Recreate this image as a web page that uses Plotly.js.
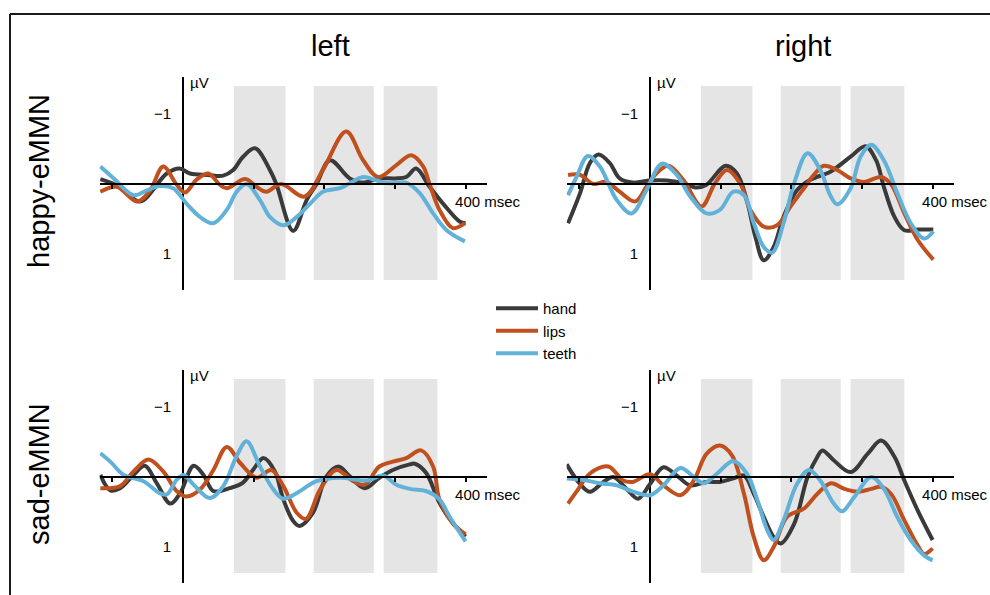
<!DOCTYPE html>
<html>
<head>
<meta charset="utf-8">
<script src="https://cdn.plot.ly/plotly-3.0.1.min.js"></script>
<style>html,body{margin:0;padding:0;background:#fff;}#chart{width:990px;height:595px;}</style>
</head>
<body>
<div id="chart"></div>
<script>
// ---------- DATA (time in msec, amplitude in µV; negative plotted upward) ----------
const conditions = ['hand', 'lips', 'teeth'];
const columnTitles = ['left', 'right'];
const rowTitles = ['happy-eMMN', 'sad-eMMN'];
const analysisWindows = [[72, 145], [185, 270], [284, 360]];
const windowTop = -1.4, windowBottom = 1.37;
const yTickVals = [-1, 1];
const yTickText = ['\u22121', '1'];
const xTickVals = [-100, 100, 200, 300, 400];
const xTickText = ['', '', '', '', '400 msec'];

// happy-eMMN, left
const happyLeftHandX = [-117,-89,-61,-23,-5,10,35,57,71,85,102,123,132,156,175,189,208,236,255,278,300,316,330,349,368,392,400];
const happyLeftHandY = [-0.07,0.04,0.25,-0.15,-0.22,-0.15,-0.13,-0.12,-0.2,-0.39,-0.51,-0.2,0.0,0.67,0.23,0.0,-0.34,-0.08,-0.02,-0.08,-0.08,-0.1,-0.22,0.04,0.28,0.54,0.56];
const happyLeftLipsX = [-117,-94,-65,-47,-28,-9,3,19,36,52,62,88,104,118,139,172,198,231,255,276,302,323,340,349,363,382,399];
const happyLeftLipsY = [0.11,0.04,0.25,0.1,-0.25,0.01,0.12,-0.06,-0.15,0.01,0.06,-0.07,0.04,0.11,0.0,0.18,-0.2,-0.75,-0.34,-0.1,-0.27,-0.41,-0.25,0.0,0.37,0.63,0.56];
const happyLeftTeethX = [-117,-98,-70,-51,-33,-14,5,24,43,62,76,90,109,123,142,161,180,198,222,236,255,274,293,316,335,354,373,399];
const happyLeftTeethY = [-0.25,-0.08,0.16,0.09,0.03,0.06,0.28,0.47,0.56,0.37,0.11,0.0,0.23,0.47,0.59,0.47,0.28,0.11,0.06,-0.01,-0.1,-0.05,-0.01,-0.02,0.13,0.42,0.66,0.82];

// happy-eMMN, right
const happyRightHandX = [-116,-99,-85,-73,-57,-43,-24,0,24,47,66,80,107,123,137,149,161,175,189,208,227,256,284,305,320,331,346,360,379,401];
const happyRightHandY = [0.56,0.13,-0.3,-0.42,-0.3,-0.08,-0.02,-0.05,-0.05,-0.01,0.05,0.01,-0.26,-0.15,0.23,0.75,1.09,0.9,0.47,0.09,-0.06,-0.18,-0.39,-0.54,-0.34,0.04,0.47,0.66,0.65,0.65];
const happyRightLipsX = [-116,-99,-80,-62,-43,-21,-5,9,26,47,73,92,109,128,142,161,180,199,218,232,246,265,284,303,327,341,360,379,401];
const happyRightLipsY = [-0.13,-0.13,0.0,-0.03,0.11,0.25,0.04,-0.15,-0.26,-0.06,0.32,-0.01,-0.2,0.0,0.37,0.61,0.59,0.32,0.06,-0.13,-0.26,-0.2,-0.08,-0.03,-0.1,0.0,0.42,0.8,1.08];
const happyRightTeethX = [-116,-104,-88,-71,-47,-26,-5,17,38,57,80,99,118,133,147,161,173,189,204,223,241,256,265,284,298,313,331,350,369,388,401];
const happyRightTeethY = [0.16,-0.1,-0.4,-0.25,0.23,0.42,0.09,-0.29,-0.13,0.18,0.42,0.37,0.11,0.16,0.56,0.9,0.98,0.56,-0.01,-0.44,-0.2,0.18,0.29,0.06,-0.39,-0.56,-0.34,0.13,0.56,0.78,0.68];

// sad-eMMN, left
const sadLeftHandX = [-117,-103,-89,-70,-54,-37,-18,-4,15,29,43,66,85,99,114,130,142,156,165,184,203,220,236,257,278,297,321,328,344,363,382,400];
const sadLeftHandY = [-0.03,0.19,0.16,-0.03,-0.16,0.09,0.38,0.23,-0.16,-0.03,0.2,0.16,0.08,-0.1,-0.27,-0.08,0.32,0.63,0.7,0.51,-0.01,-0.15,-0.01,0.16,0.01,-0.1,-0.18,-0.19,-0.06,0.37,0.66,0.85];
const sadLeftLipsX = [-117,-89,-70,-49,-28,-9,5,24,43,62,81,104,125,142,161,174,194,217,241,257,278,297,316,337,354,363,382,400];
const sadLeftLipsY = [0.16,0.13,-0.08,-0.25,-0.08,0.2,0.28,0.18,-0.1,-0.43,-0.2,0.01,-0.1,0.13,0.51,0.6,0.18,-0.1,0.06,0.11,-0.15,-0.22,-0.27,-0.38,-0.15,0.32,0.66,0.82];
const sadLeftTeethX = [-117,-103,-84,-56,-33,-23,-9,1,15,38,57,76,90,109,128,142,161,189,222,260,283,302,321,344,363,377,400];
const sadLeftTeethY = [-0.34,-0.22,-0.03,0.06,0.23,0.25,0.04,-0.03,0.11,0.3,0.13,-0.3,-0.51,-0.15,0.18,0.31,0.23,0.06,0.01,0.05,-0.02,0.11,0.17,0.2,0.32,0.56,0.92];

// sad-eMMN, right
const sadRightHandX = [-118,-99,-85,-66,-52,-33,-17,0,19,38,57,80,99,118,133,147,161,175,185,204,223,237,244,260,284,308,327,346,360,379,400];
const sadRightHandY = [-0.18,0.1,0.21,0.07,0.0,0.17,0.31,0.1,-0.14,-0.02,0.12,0.07,0.07,0.02,-0.02,0.24,0.57,0.86,0.95,0.67,0.0,-0.29,-0.38,-0.24,-0.07,-0.33,-0.52,-0.29,0.05,0.48,0.9];
const sadRightLipsX = [-116,-104,-85,-59,-38,-24,0,19,43,62,80,99,116,133,147,161,175,194,218,237,256,275,294,313,327,341,360,379,388,400];
const sadRightLipsY = [0.38,0.21,-0.05,-0.15,0.05,0.07,-0.04,0.12,0.26,0.05,-0.33,-0.45,-0.31,0.24,0.86,1.19,1.0,0.57,0.45,0.24,0.09,0.17,0.21,0.17,0.14,0.24,0.62,0.98,1.1,1.02];
const sadRightTeethX = [-118,-95,-71,-47,-24,0,19,43,62,76,95,118,137,152,166,175,189,208,225,241,260,272,289,313,331,350,369,388,400];
const sadRightTeethY = [0.02,0.04,0.09,0.12,0.21,0.26,0.12,-0.13,0.0,0.09,-0.05,-0.23,-0.05,0.33,0.76,0.9,0.62,0.1,-0.1,0.05,0.38,0.49,0.29,0.0,0.17,0.57,0.9,1.12,1.19];

// ---------- STYLE / LAYOUT ----------
const W = 990, H = 595;
const colors = {hand: '#3a3a3a', lips: '#c0501e', teeth: '#62b1d8'};
const xRange = [-118, 430];
const yRange = [1.51, -1.53]; // reversed: negative up
const pxPerMs = 0.7065, pxPerUv = 70;
const FONT = 'Liberation Sans, Arial, Helvetica, sans-serif';

// pixel anchors of each panel: [x of 0 ms, y of 0 µV]
const panels = [
  {x0: 183, y0: 184, data: [[happyLeftHandX, happyLeftHandY], [happyLeftLipsX, happyLeftLipsY], [happyLeftTeethX, happyLeftTeethY]]},
  {x0: 650, y0: 184, data: [[happyRightHandX, happyRightHandY], [happyRightLipsX, happyRightLipsY], [happyRightTeethX, happyRightTeethY]]},
  {x0: 183, y0: 477, data: [[sadLeftHandX, sadLeftHandY], [sadLeftLipsX, sadLeftLipsY], [sadLeftTeethX, sadLeftTeethY]]},
  {x0: 650, y0: 477, data: [[sadRightHandX, sadRightHandY], [sadRightLipsX, sadRightLipsY], [sadRightTeethX, sadRightTeethY]]}
];

const traces = [];
const layout = {
  width: W, height: H,
  margin: {l: 0, r: 0, t: 0, b: 0},
  paper_bgcolor: '#fff', plot_bgcolor: 'rgba(0,0,0,0)',
  font: {family: FONT, color: '#000'},
  showlegend: true,
  legend: {x: 491 / W, y: 1 - 292 / H, xanchor: 'left', yanchor: 'top',
           font: {size: 15, family: FONT}, bgcolor: 'rgba(0,0,0,0)', itemwidth: 42, tracegroupgap: 0},
  shapes: [], annotations: []
};

panels.forEach((p, i) => {
  const sfx = i === 0 ? '' : String(i + 1);
  const xa = 'xaxis' + sfx, ya = 'yaxis' + sfx;
  const xr = 'x' + sfx, yr = 'y' + sfx;
  const left = p.x0 + xRange[0] * pxPerMs, right = p.x0 + xRange[1] * pxPerMs;
  const top = p.y0 + yRange[1] * pxPerUv, bottom = p.y0 + yRange[0] * pxPerUv;
  layout[xa] = {
    domain: [left / W, right / W], range: xRange, anchor: 'free', position: 1 - p.y0 / H,
    showgrid: false, zeroline: true, zerolinecolor: '#000', zerolinewidth: 2,
    showline: true, linecolor: '#000', linewidth: 2,
    ticks: 'outside', ticklen: 4, tickwidth: 2, tickcolor: '#000',
    tickvals: xTickVals, ticktext: xTickText, ticklabelshift: 22,
    tickfont: {size: 15, family: FONT}, fixedrange: true
  };
  layout[ya] = {
    domain: [1 - bottom / H, 1 - top / H], range: yRange, anchor: 'free', position: p.x0 / W,
    showgrid: false, zeroline: false, showline: false,
    ticks: 'outside', ticklen: 9, tickcolor: 'rgba(0,0,0,0)',
    tickvals: yTickVals, ticktext: yTickText,
    tickfont: {size: 15, family: FONT}, fixedrange: true
  };
  analysisWindows.forEach(w => {
    layout.shapes.push({type: 'rect', xref: xr, yref: yr, x0: w[0], x1: w[1], y0: windowTop, y1: windowBottom,
      fillcolor: '#e5e5e5', line: {width: 0}, layer: 'below'});
  });
  layout.annotations.push({xref: xr, yref: yr, x: 0, y: -1.45, text: '\u00b5V', showarrow: false,
    xanchor: 'left', yanchor: 'middle', xshift: 5, font: {size: 15, family: FONT}});
  p.data.forEach((d, k) => {
    const c = conditions[k];
    traces.push({x: d[0], y: d[1], xaxis: xr, yaxis: yr, type: 'scatter', mode: 'lines', name: c,
      showlegend: i === 0, legendgroup: c,
      line: {color: colors[c], width: 4, shape: 'spline', smoothing: 1}, hoverinfo: 'skip'});
  });
});

// column and row titles
layout.annotations.push({xref: 'paper', yref: 'paper', x: 330 / W, y: 1 - 46 / H, text: columnTitles[0], showarrow: false,
  font: {size: 29, family: FONT}, xanchor: 'center', yanchor: 'middle'});
layout.annotations.push({xref: 'paper', yref: 'paper', x: 803 / W, y: 1 - 46 / H, text: columnTitles[1], showarrow: false,
  font: {size: 29, family: FONT}, xanchor: 'center', yanchor: 'middle'});
layout.annotations.push({xref: 'paper', yref: 'paper', x: 39 / W, y: 1 - 181 / H, text: rowTitles[0], showarrow: false,
  textangle: -90, font: {size: 29, family: FONT}, xanchor: 'center', yanchor: 'middle'});
layout.annotations.push({xref: 'paper', yref: 'paper', x: 39 / W, y: 1 - 474 / H, text: rowTitles[1], showarrow: false,
  textangle: -90, font: {size: 29, family: FONT}, xanchor: 'center', yanchor: 'middle'});

// figure frame (top and left edges)
layout.shapes.push({type: 'line', xref: 'paper', yref: 'paper', x0: 10 / W, x1: 1.02, y0: 1 - 14 / H, y1: 1 - 14 / H,
  line: {color: '#1a1a1a', width: 2}});
layout.shapes.push({type: 'line', xref: 'paper', yref: 'paper', x0: 10 / W, x1: 10 / W, y0: 1 - 14 / H, y1: -0.02,
  line: {color: '#1a1a1a', width: 2}});

Plotly.newPlot('chart', traces, layout, {staticPlot: true, displayModeBar: false});
</script>
</body>
</html>
